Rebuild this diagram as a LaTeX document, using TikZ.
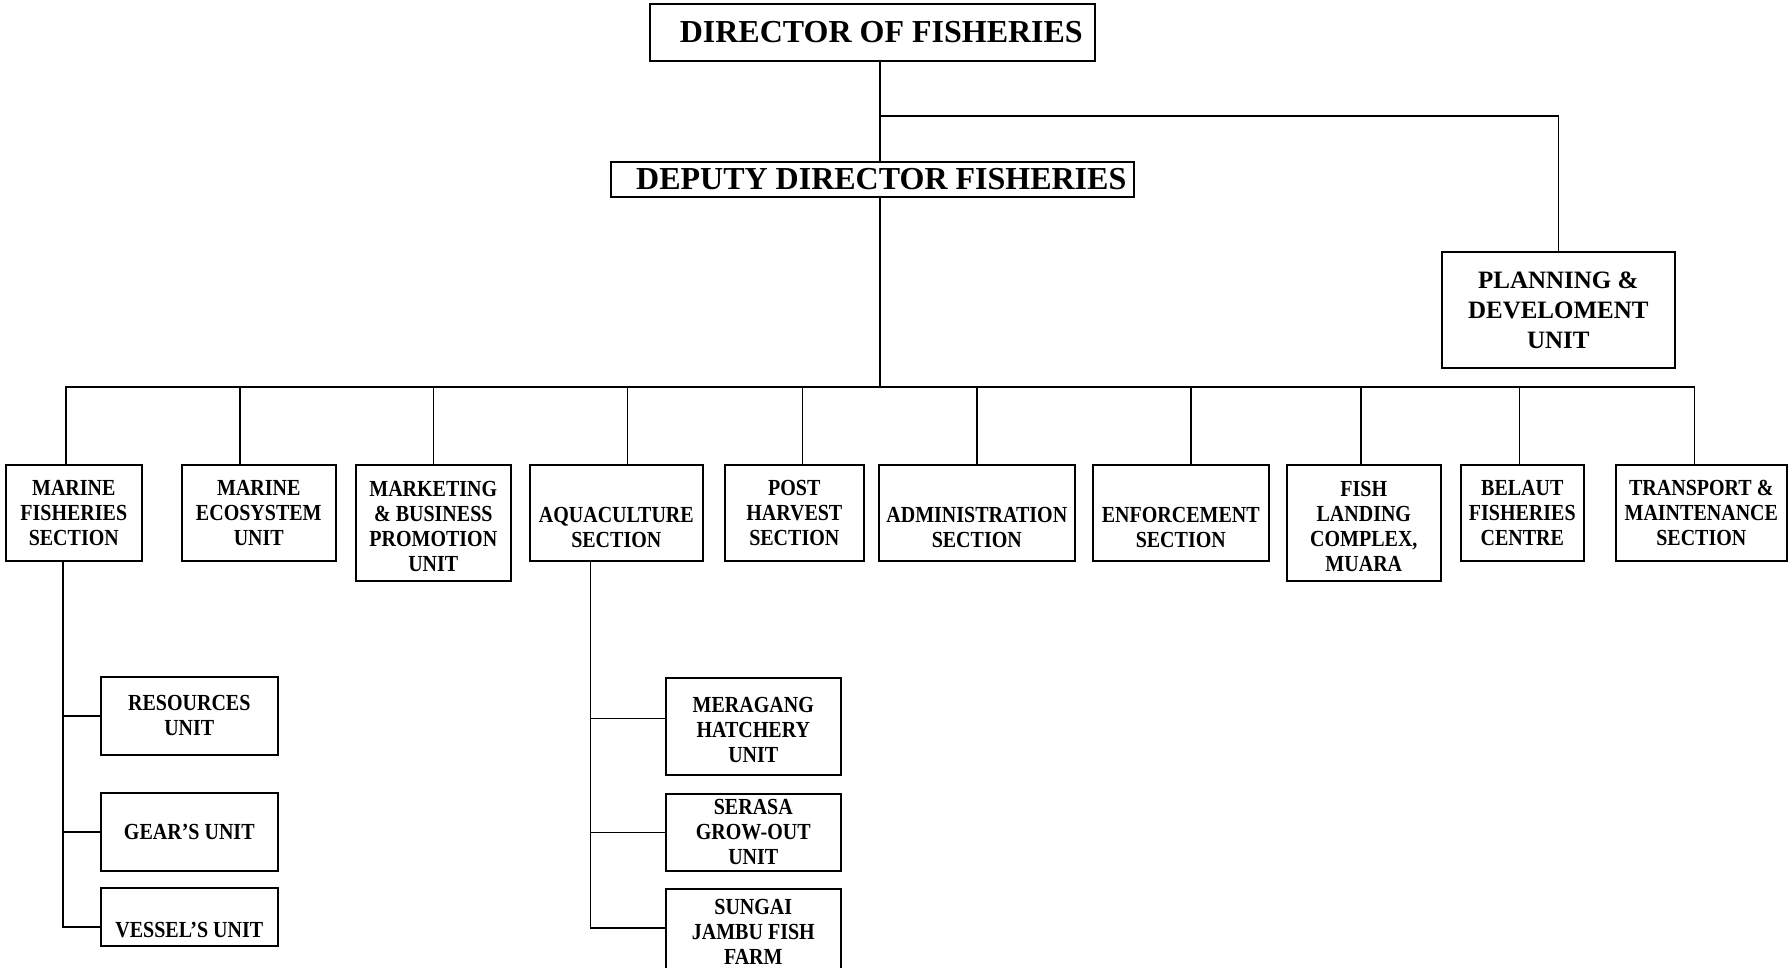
\documentclass[tikz,border=0pt]{standalone}
\usepackage{fontspec}
\setmainfont{Liberation Serif}
\newfontfamily\boxfont[FakeStretch=0.87]{Liberation Serif}
\newcommand{\smallboxfont}{\boxfont\bfseries\fontsize{23}{25}\selectfont}
\newcommand{\bigboxfont}{\rmfamily\bfseries\fontsize{32}{34}\selectfont}
\newcommand{\planfont}{\rmfamily\bfseries\fontsize{25}{30}\selectfont}
\begin{document}
\begin{tikzpicture}[x=1pt,y=-1pt,
  line width=1.6pt,
  box/.style={draw, line width=1.6pt, inner sep=0pt, align=center, anchor=north west, font=\smallboxfont},
  bigbox/.style={draw, line width=1.6pt, inner sep=0pt, anchor=north west, font=\bigboxfont},
  planbox/.style={draw, line width=1.6pt, inner sep=0pt, align=center, anchor=north west, font=\planfont}]
\useasboundingbox (0,0) rectangle (1788,967);
\clip (0,0) rectangle (1788,967);

% top level
\node[bigbox, minimum width=445pt, minimum height=57pt] (dir) at (649,3) {\hspace*{18pt}DIRECTOR OF FISHERIES};
\node[bigbox, minimum width=523pt, minimum height=35pt] (dep) at (610,161) {\hspace*{18pt}DEPUTY DIRECTOR FISHERIES};
\node[planbox, minimum width=233pt, minimum height=116pt] (plan) at (1441,251) {PLANNING \&\\DEVELOMENT\\UNIT};

% sections
\node[box, minimum width=136pt, minimum height=96pt] (mf) at (5,464) {MARINE\\FISHERIES\\SECTION};
\node[box, minimum width=154pt, minimum height=96pt] (me) at (181,464) {MARINE\\ECOSYSTEM\\UNIT};
\node[box, minimum width=155pt, minimum height=116pt] (mk) at (355,464) {\mbox{}\\[-3pt]MARKETING\\\& BUSINESS\\PROMOTION\\UNIT};
\node[box, minimum width=173pt, minimum height=96pt] (aq) at (529,464) {\mbox{}\\[19pt]AQUACULTURE\\SECTION};
\node[box, minimum width=139pt, minimum height=96pt] (ph) at (724,464) {POST\\HARVEST\\SECTION};
\node[box, minimum width=196pt, minimum height=96pt] (ad) at (878,464) {\mbox{}\\[19pt]ADMINISTRATION\\SECTION};
\node[box, minimum width=176pt, minimum height=96pt] (en) at (1092,464) {\mbox{}\\[19pt]ENFORCEMENT\\SECTION};
\node[box, minimum width=154pt, minimum height=116pt] (fl) at (1286,464) {\mbox{}\\[-3pt]FISH\\LANDING\\COMPLEX,\\MUARA};
\node[box, minimum width=123pt, minimum height=96pt] (be) at (1460,464) {BELAUT\\FISHERIES\\CENTRE};
\node[box, minimum width=171pt, minimum height=96pt] (tr) at (1615,464) {TRANSPORT \&\\MAINTENANCE\\SECTION};

% marine units
\node[box, minimum width=177pt, minimum height=78pt] (res) at (100,676) {RESOURCES\\UNIT};
\node[box, minimum width=177pt, minimum height=78pt] (gear) at (100,792) {GEAR’S UNIT};
\node[box, minimum width=177pt, minimum height=58pt] (ves) at (100,887) {\mbox{}\\[17pt]VESSEL’S UNIT};

% aquaculture units
\node[box, minimum width=175pt, minimum height=97pt] (mer) at (665,677) {\mbox{}\\[-3pt]MERAGANG\\HATCHERY\\UNIT};
\node[box, minimum width=175pt, minimum height=77pt] (ser) at (665,793) {SERASA\\GROW-OUT\\UNIT};
\node[box, minimum width=175pt, minimum height=96pt] (sun) at (665,888) {SUNGAI\\JAMBU FISH\\FARM\\[-16pt]\mbox{}};

% junctions
\coordinate (j1) at (880,116);
\coordinate (bus) at (880,387);

% connectors
\draw (dir.south -| j1) -- (dep.north -| j1);
\draw (j1) -| (plan.north);
\draw (dep.south -| bus) -- (bus);
\draw (bus) -| ([xshift=-8pt]mf.north);
\draw (bus) -| ([xshift=-19pt]me.north);
\draw (bus) -| (mk.north);
\draw (bus) -| ([xshift=11pt]aq.north);
\draw (bus) -| ([xshift=8pt]ph.north);
\draw (bus) -| (ad.north);
\draw (bus) -| ([xshift=10pt]en.north);
\draw (bus) -| ([xshift=-3pt]fl.north);
\draw (bus) -| ([xshift=-3pt]be.north);
\draw (bus) -| ([xshift=-7pt]tr.north);

\draw ([xshift=-11pt]mf.south) |- (res.west);
\draw ([xshift=-11pt]mf.south) |- (gear.west);
\draw ([xshift=-11pt]mf.south) |- ([yshift=-10pt]ves.west);

\draw ([xshift=-26pt]aq.south) |- ([yshift=8pt]mer.west);
\draw ([xshift=-26pt]aq.south) |- (ser.west);
\draw ([xshift=-26pt]aq.south) |- ([yshift=9pt]sun.west);
\end{tikzpicture}
\end{document}
